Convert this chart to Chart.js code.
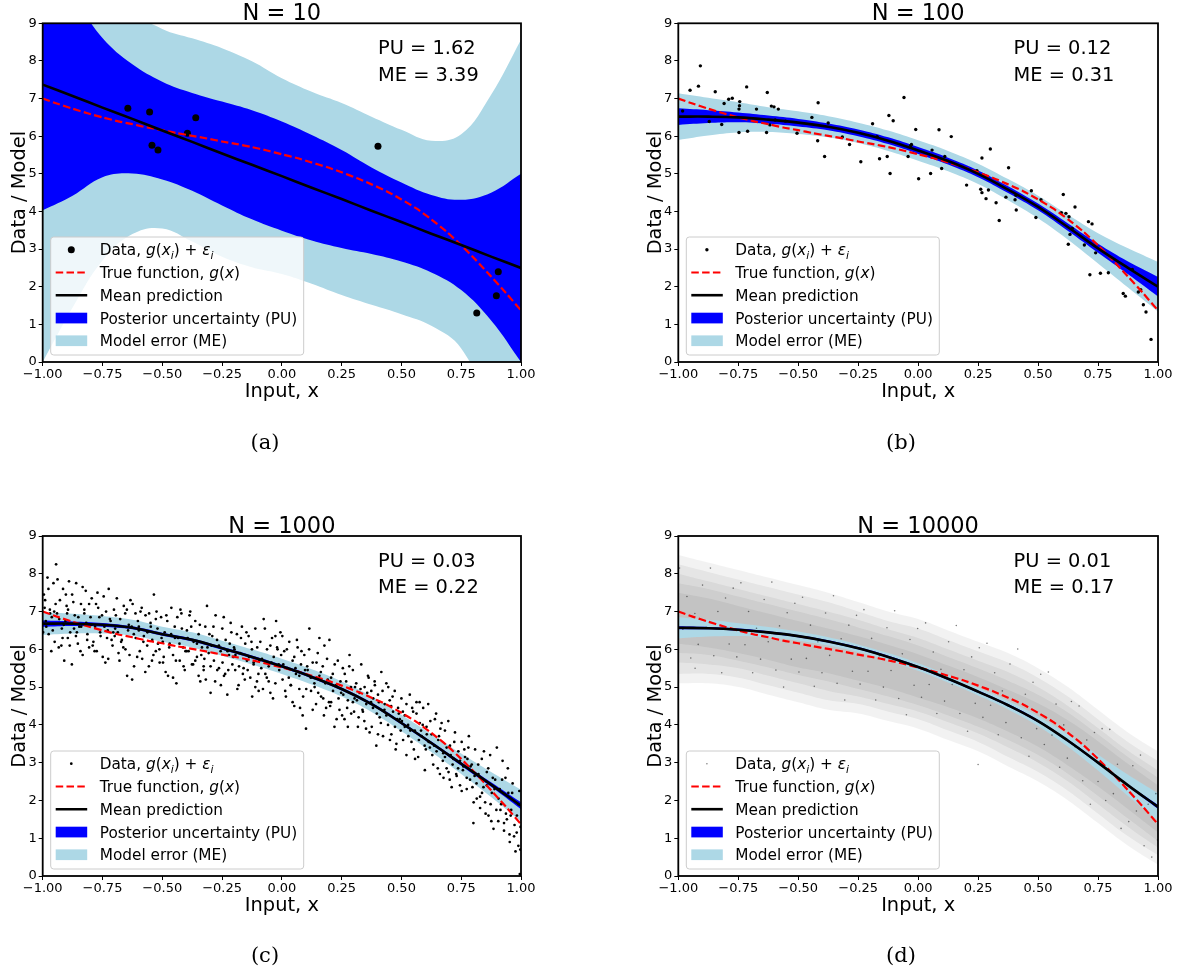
<!DOCTYPE html>
<html lang="en">
<head>
<meta charset="UTF-8">
<title>GP fits, N = 10 to 10000</title>
<script src="https://cdn.jsdelivr.net/npm/chart.js"></script>
<style>
  body { margin: 0; background: #fff; }
  .page { position: relative; width: 1178px; height: 972px; overflow: hidden; background: #fff; }
  .page canvas { position: absolute; left: 0; top: 0; }
  .cap { position: absolute; width: 60px; height: 26px; line-height: 26px; text-align: center;
         font-family: "DejaVu Serif", serif; font-size: 21px; color: #000; }
</style>
</head>
<body>
<div class="page">
  <canvas id="pa" width="1178" height="972"></canvas>
  <canvas id="pb" width="1178" height="972"></canvas>
  <canvas id="pc" width="1178" height="972"></canvas>
  <canvas id="pd" width="1178" height="972"></canvas>
  <div class="cap" style="left:235px;top:429px">(a)</div>
  <div class="cap" style="left:871px;top:429px">(b)</div>
  <div class="cap" style="left:235px;top:942px">(c)</div>
  <div class="cap" style="left:871px;top:942px">(d)</div>
</div>
<script>
// ---- data ----
const xGrid = [-1, -0.875, -0.75, -0.625, -0.5, -0.375, -0.25, -0.125, 0, 0.125, 0.25, 0.375, 0.5, 0.625, 0.75, 0.875, 1];
const xFine = [-1, -0.9375, -0.875, -0.8125, -0.75, -0.6875, -0.625, -0.5625, -0.5, -0.4375, -0.375, -0.3125, -0.25, -0.1875, -0.125, -0.0625,
  0, 0.0625, 0.125, 0.1875, 0.25, 0.3125, 0.375, 0.4375, 0.5, 0.5625, 0.625, 0.6875, 0.75, 0.8125, 0.875, 0.9375, 1];
const trueFn = [7.00, 6.86, 6.73, 6.61, 6.50, 6.40, 6.32, 6.23, 6.16, 6.08, 6.01, 5.94, 5.86, 5.79, 5.71, 5.62,
  5.52, 5.42, 5.30, 5.18, 5.04, 4.89, 4.72, 4.54, 4.32, 4.08, 3.79, 3.47, 3.10, 2.70, 2.27, 1.83, 1.37];
const xTicks = [-1, -0.75, -0.5, -0.25, 0, 0.25, 0.5, 0.75, 1];
const yTicks = [0, 1, 2, 3, 4, 5, 6, 7, 8, 9];

// N = 10
const dataA = [[-0.644,6.74],[-0.553,6.64],[-0.543,5.76],[-0.518,5.63],[-0.395,6.08],[-0.360,6.49],[0.402,5.73],[0.815,1.30],[0.897,1.76],[0.905,2.40]];
const meanA = [7.37, 7.07, 6.76, 6.46, 6.15, 5.85, 5.54, 5.24, 4.94, 4.63, 4.33, 4.02, 3.72, 3.41, 3.11, 2.80, 2.50];
const puUpA = [10.71, 9.72, 8.61, 7.91, 7.45, 7.15, 6.92, 6.69, 6.39, 6.03, 5.63, 5.17, 4.77, 4.44, 4.31, 4.50, 5.00];
const puLoA = [4.03, 4.42, 4.91, 5.01, 4.85, 4.55, 4.16, 3.79, 3.49, 3.23, 3.03, 2.87, 2.67, 2.38, 1.91, 1.10, 0.00];
const meUpA = [14.77, 12.37, 10.56, 9.36, 8.85, 8.60, 8.34, 7.99, 7.54, 7.18, 6.88, 6.52, 6.17, 5.88, 6.05, 7.10, 8.56];
const meLoA = [0.00, 1.45, 2.70, 3.40, 3.55, 3.20, 2.80, 2.52, 2.34, 2.08, 1.78, 1.52, 1.27, 0.96, 0.36, -1.30, -3.56];

// N = 100
const dataB = [[-0.982,6.67],[-0.951,7.22],[-0.916,7.33],[-0.908,7.87],[-0.871,6.39],[-0.846,7.18],[-0.819,6.31],[-0.809,6.87],[-0.790,6.98],[-0.775,7.01],[-0.747,6.10],[-0.744,6.92],[-0.745,6.81],[-0.747,6.72],[-0.715,7.31],[-0.711,6.13],[-0.674,6.72],[-0.632,6.10],[-0.629,7.16],[-0.612,6.80],[-0.601,6.78],[-0.583,6.72],[-0.618,6.30],[-0.596,6.43],[-0.553,6.40],[-0.505,6.08],[-0.443,6.50],[-0.417,6.89],[-0.419,5.88],[-0.390,5.46],[-0.375,6.35],[-0.316,5.98],[-0.286,5.78],[-0.239,5.32],[-0.190,6.33],[-0.171,5.99],[-0.161,5.40],[-0.129,5.46],[-0.122,6.55],[-0.117,5.01],[-0.104,6.41],[-0.059,7.03],[-0.042,5.46],[-0.031,5.75],[-0.028,5.78],[-0.010,6.18],[0.002,4.87],
  [0.087,6.17],[0.138,5.99],[0.058,5.63],[0.111,5.46],[0.098,5.14],[0.052,5.01],[0.301,5.66],[0.266,5.42],[0.245,5.08],[0.202,4.70],[0.261,4.59],[0.266,4.50],[0.293,4.57],[0.283,4.34],[0.325,4.23],[0.338,3.76],[0.377,5.16],[0.366,4.38],[0.404,4.31],[0.409,4.04],[0.408,4.43],[0.472,4.55],[0.512,4.31],[0.491,3.84],[0.605,4.45],[0.597,3.97],[0.616,3.95],[0.629,3.86],[0.654,4.12],[0.633,3.39],[0.626,3.13],[0.693,3.11],[0.710,3.73],[0.725,3.67],[0.740,2.90],[0.716,2.32],[0.760,2.36],[0.793,2.37],[0.855,1.82],[0.864,1.75],[0.893,2.46],[0.918,1.86],[0.928,1.92],[0.939,1.52],[0.950,1.33],[0.971,0.60],[0.643,3.55]];
const meanB = [6.52, 6.52, 6.50, 6.44, 6.36, 6.25, 6.09, 5.88, 5.62, 5.34, 5.00, 4.58, 4.12, 3.58, 3.02, 2.50, 2.00];
const puUpB = [6.74, 6.69, 6.63, 6.55, 6.46, 6.34, 6.18, 5.97, 5.71, 5.43, 5.09, 4.67, 4.21, 3.68, 3.14, 2.67, 2.26];
const puLoB = [6.30, 6.35, 6.37, 6.33, 6.26, 6.16, 6.00, 5.79, 5.53, 5.25, 4.91, 4.49, 4.03, 3.48, 2.90, 2.33, 1.74];
const meUpB = [7.14, 7.02, 6.90, 6.77, 6.66, 6.53, 6.36, 6.15, 5.89, 5.61, 5.27, 4.86, 4.42, 3.91, 3.42, 3.02, 2.66];
const meLoB = [5.90, 6.02, 6.10, 6.11, 6.06, 5.97, 5.82, 5.61, 5.35, 5.07, 4.73, 4.30, 3.82, 3.25, 2.62, 1.98, 1.34];

// N = 1000 (a readable share of the scatter)
const dataC = [[-0.995,7.45],[-0.99,7.3],[-0.985,6.6],[-0.98,7.9],[-0.975,6.4],[-0.97,7.05],[-0.962,6.85],[-0.955,7.75],[-0.95,6.2],[-0.944,8.25],[-0.94,6.95],[-0.933,6.05],[-0.928,7.3],[-0.92,6.55],[-0.915,7.6],[-0.91,5.7],[-0.905,6.75],[-0.9,7.15],
  [-0.895,6.3],[-0.89,7.8],[-0.885,6.45],[-0.878,5.6],[-0.872,7.25],[-0.866,6.9],[-0.86,7.75],[-0.853,6.15],[-0.847,6.6],[-0.84,7.2],[-0.833,5.85],[-0.826,6.95],[-0.82,7.55],[-0.813,6.4],[-0.806,6.05],[-0.8,6.85],
  [-0.795,7.35],[-0.788,6.2],[-0.781,6.6],[-0.774,5.95],[-0.768,7.1],[-0.76,6.45],[-0.752,6.9],[-0.745,7.4],[-0.738,5.65],[-0.731,6.3],[-0.724,7.6],[-0.716,6.75],[-0.708,6.1],[-0.702,7.05],
  [-0.697,6.55],[-0.69,7.35],[-0.683,5.9],[-0.676,6.8],[-0.669,6.25],[-0.661,7.15],[-0.654,6.0],[-0.647,5.3],[-0.64,6.65],[-0.633,7.3],[-0.626,5.2],[-0.619,6.4],[-0.612,6.95],[-0.605,5.8],
  [-0.598,6.6],[-0.591,7.0],[-0.584,5.75],[-0.577,6.35],[-0.57,6.9],[-0.563,6.1],[-0.556,5.55],[-0.549,6.7],[-0.542,6.25],[-0.535,7.45],[-0.527,5.95],[-0.52,6.55],[-0.512,6.0],[-0.505,6.85],
  [-0.497,5.65],[-0.49,6.45],[-0.483,6.9],[-0.476,5.3],[-0.469,6.15],[-0.462,7.1],[-0.455,5.85],[-0.448,6.6],[-0.441,5.1],[-0.434,6.3],[-0.427,5.7],[-0.42,6.95],[-0.413,6.05],[-0.406,5.45],
  [-0.397,6.5],[-0.39,5.95],[-0.383,7.0],[-0.376,5.6],[-0.369,6.2],[-0.362,6.75],[-0.355,5.8],[-0.348,6.4],[-0.341,5.15],[-0.334,6.05],[-0.327,5.55],[-0.32,6.6],[-0.313,7.15],[-0.306,5.9],
  [-0.298,4.85],[-0.291,6.35],[-0.284,5.7],[-0.277,6.9],[-0.27,5.45],[-0.263,6.1],[-0.256,5.95],[-0.249,6.55],[-0.242,5.3],[-0.235,6.25],[-0.228,4.8],[-0.221,5.85],[-0.214,6.7],[-0.207,5.6],[-0.2,6.05],
  [-0.195,5.45],[-0.188,6.4],[-0.181,5.05],[-0.174,5.9],[-0.167,6.6],[-0.16,5.5],[-0.153,6.15],[-0.146,5.7],[-0.139,6.35],[-0.132,5.25],[-0.125,6.0],[-0.118,5.65],[-0.111,6.55],[-0.104,5.15],
  [-0.097,4.9],[-0.09,6.2],[-0.083,5.75],[-0.076,6.8],[-0.069,5.35],[-0.062,6.0],[-0.055,5.55],[-0.048,4.85],[-0.041,6.3],[-0.034,5.8],[-0.027,5.1],[-0.02,6.05],[-0.013,5.6],[-0.006,6.45],
  [0.003,5.2],[0.01,5.95],[0.017,4.75],[0.024,5.5],[0.031,6.2],[0.038,5.05],[0.045,5.7],[0.052,4.5],[0.059,5.35],[0.066,6.05],[0.073,4.95],[0.08,5.6],[0.087,4.25],[0.094,5.85],
  [0.101,3.9],[0.108,5.45],[0.115,6.55],[0.122,4.9],[0.129,5.65],[0.136,5.1],[0.143,4.55],[0.15,5.9],[0.157,5.3],[0.164,4.75],[0.171,5.55],[0.178,6.1],[0.185,4.45],[0.192,5.2],
  [0.199,6.25],[0.206,4.6],[0.213,5.35],[0.22,3.95],[0.227,5.05],[0.234,5.7],[0.241,4.4],[0.248,4.85],[0.255,5.5],[0.262,4.15],[0.269,5.15],[0.276,4.65],[0.283,5.85],[0.29,4.3],
  [0.297,5.45],[0.304,4.7],[0.311,5.1],[0.318,3.95],[0.325,4.85],[0.332,5.6],[0.339,4.35],[0.346,5.0],[0.353,4.55],[0.36,5.3],[0.367,3.8],[0.374,4.9],[0.381,4.45],[0.388,5.15],
  [0.395,3.45],[0.402,4.8],[0.409,4.2],[0.416,5.4],[0.423,3.7],[0.43,4.55],[0.437,5.1],[0.444,4.0],[0.451,4.65],[0.458,3.75],[0.465,4.35],[0.472,4.9],[0.479,3.5],[0.486,4.45],[0.493,4.15],
  [0.5,4.7],[0.507,3.6],[0.514,4.25],[0.521,3.2],[0.528,4.0],[0.535,4.8],[0.542,3.55],[0.549,4.35],[0.556,3.85],[0.563,4.6],[0.57,3.15],[0.577,4.05],[0.584,3.7],[0.591,4.45],
  [0.598,2.8],[0.605,3.95],[0.612,4.55],[0.619,3.4],[0.626,3.75],[0.633,2.95],[0.64,4.15],[0.647,3.3],[0.654,3.6],[0.661,2.7],[0.668,4.05],[0.675,3.25],[0.682,3.85],[0.689,2.85],[0.696,4.1],
  [0.703,3.45],[0.71,2.35],[0.717,3.1],[0.724,3.8],[0.731,2.65],[0.738,3.3],[0.745,2.4],[0.752,3.55],[0.759,2.9],[0.766,3.15],[0.773,2.3],[0.78,3.4],[0.787,2.55],[0.794,2.95],
  [0.801,1.4],[0.808,3.35],[0.815,2.05],[0.822,2.7],[0.829,1.8],[0.836,3.1],[0.843,2.35],[0.85,1.95],[0.857,2.75],[0.864,1.6],[0.871,3.2],[0.878,2.2],[0.885,1.25],[0.892,2.55],[0.899,3.4],
  [0.905,1.45],[0.911,2.3],[0.917,1.9],[0.923,3.05],[0.929,1.2],[0.935,2.6],[0.941,1.5],[0.947,2.2],[0.953,0.9],[0.959,1.75],[0.965,2.45],[0.971,1.05],[0.977,0.65],[0.983,1.6],[0.989,0.8],[0.995,0.05],[0.998,1.3],
  [-0.958,6.5],[-0.992,7.1],[-0.917,6.3],[-0.976,7.6],[-0.931,6.8],[-0.964,5.95],[-0.903,7.45],[-0.987,6.75],[-0.946,7.2],[-0.922,6.1],[-0.969,6.95],[-0.938,7.85],[-0.998,6.45],[-0.912,6.65],[-0.952,7.0],
  [-0.861,6.35],[-0.894,7.05],[-0.818,6.7],[-0.877,7.45],[-0.842,5.95],[-0.806,7.2],[-0.869,6.55],[-0.833,7.65],[-0.887,6.1],[-0.851,6.85],[-0.814,6.25],[-0.898,6.95],[-0.826,7.05],[-0.857,6.45],[-0.839,6.6],
  [-0.763,6.85],[-0.791,6.1],[-0.728,6.5],[-0.777,7.2],[-0.712,6.25],[-0.749,5.8],[-0.796,6.65],[-0.735,7.0],[-0.758,6.35],[-0.719,6.8],[-0.783,5.95],[-0.742,6.6],[-0.705,6.45],[-0.771,7.5],[-0.726,5.75],
  [-0.663,6.05],[-0.694,6.9],[-0.628,6.6],[-0.679,5.7],[-0.611,6.3],[-0.648,7.05],[-0.686,6.45],[-0.637,5.85],[-0.602,6.75],[-0.672,6.2],[-0.655,6.95],[-0.618,5.55],[-0.699,6.35],[-0.643,6.5],[-0.624,7.2],
  [-0.562,6.45],[-0.594,5.95],[-0.527,6.8],[-0.579,6.2],[-0.511,5.65],[-0.548,6.6],[-0.586,7.1],[-0.537,5.85],[-0.503,6.3],[-0.571,5.4],[-0.555,6.95],[-0.518,6.15],[-0.598,6.5],[-0.543,5.7],[-0.524,7.0],
  [-0.463,6.4],[-0.494,5.8],[-0.428,6.15],[-0.479,6.75],[-0.411,5.55],[-0.447,6.3],[-0.486,5.4],[-0.437,6.85],[-0.403,5.95],[-0.471,6.05],[-0.455,5.25],[-0.418,6.55],[-0.498,6.2],[-0.443,5.7],[-0.424,7.05],
  [-0.362,5.7],[-0.394,6.3],[-0.327,5.45],[-0.379,6.6],[-0.311,6.05],[-0.348,5.3],[-0.386,6.9],[-0.337,5.85],[-0.303,6.4],[-0.371,5.6],[-0.355,6.15],[-0.318,5.2],[-0.398,5.95],[-0.343,6.65],[-0.324,5.75],
  [-0.263,5.5],[-0.294,6.1],[-0.227,5.95],[-0.279,5.15],[-0.211,6.45],[-0.248,5.65],[-0.286,6.6],[-0.237,5.35],[-0.203,5.8],[-0.271,6.25],[-0.255,5.05],[-0.218,6.15],[-0.298,5.55],[-0.243,6.85],[-0.224,5.45],
  [-0.163,5.35],[-0.194,5.85],[-0.127,6.2],[-0.179,5.55],[-0.111,5.0],[-0.148,6.45],[-0.186,4.95],[-0.137,5.8],[-0.103,6.05],[-0.171,6.3],[-0.155,5.2],[-0.118,5.6],[-0.198,6.0],[-0.143,5.45],[-0.124,4.75],
  [-0.063,5.25],[-0.094,5.7],[-0.027,6.35],[-0.079,4.95],[-0.011,5.45],[-0.048,6.1],[-0.086,5.5],[-0.037,4.7],[-0.003,5.85],[-0.071,6.55],[-0.055,5.15],[-0.018,6.0],[-0.098,5.35],[-0.043,5.65],[-0.024,6.75],
  [0.037,5.05],[0.006,5.6],[0.073,5.3],[0.021,6.0],[0.089,4.75],[0.052,5.8],[0.014,4.9],[0.063,6.25],[0.097,5.45],[0.029,5.25],[0.045,4.6],[0.082,5.95],[0.002,6.35],[0.057,5.5],[0.076,4.45],
  [0.137,5.0],[0.106,5.55],[0.173,4.7],[0.121,5.25],[0.189,5.75],[0.152,4.85],[0.114,6.0],[0.163,5.4],[0.197,4.6],[0.129,4.4],[0.145,5.65],[0.182,5.1],[0.102,4.95],[0.157,6.3],[0.176,4.25],
  [0.237,4.7],[0.206,5.25],[0.273,4.45],[0.221,5.6],[0.289,5.0],[0.252,4.25],[0.214,4.9],[0.263,5.35],[0.297,4.6],[0.229,4.15],[0.245,5.15],[0.282,5.55],[0.202,4.5],[0.257,4.8],[0.276,3.95],
  [0.337,4.4],[0.306,5.0],[0.373,4.6],[0.321,4.2],[0.389,5.05],[0.352,3.9],[0.314,4.65],[0.363,5.25],[0.397,4.3],[0.329,4.95],[0.345,4.1],[0.382,4.7],[0.302,4.35],[0.357,4.85],[0.376,3.95],
  [0.437,4.25],[0.406,4.6],[0.473,3.95],[0.421,4.9],[0.489,4.3],[0.452,3.6],[0.414,4.05],[0.463,4.75],[0.497,3.85],[0.429,4.4],[0.445,5.0],[0.482,4.15],[0.402,3.75],[0.457,4.5],[0.476,3.35],
  [0.537,3.85],[0.506,4.35],[0.573,3.6],[0.521,4.55],[0.589,4.0],[0.552,3.35],[0.514,3.95],[0.563,4.3],[0.597,3.45],[0.529,3.7],[0.545,4.45],[0.582,3.85],[0.502,4.1],[0.557,3.1],[0.576,4.6],
  [0.637,3.45],[0.606,3.75],[0.673,3.05],[0.621,4.1],[0.689,3.4],[0.652,2.85],[0.614,3.55],[0.663,3.9],[0.697,2.75],[0.629,3.2],[0.645,4.3],[0.682,3.15],[0.602,3.35],[0.657,3.7],[0.676,2.6],
  [0.737,2.85],[0.706,3.2],[0.773,2.6],[0.721,3.55],[0.789,2.9],[0.752,2.25],[0.714,2.95],[0.763,3.35],[0.797,2.35],[0.729,2.7],[0.745,3.05],[0.782,3.7],[0.702,2.55],[0.757,2.8],[0.776,3.1],
  [0.837,2.2],[0.806,2.65],[0.873,1.9],[0.821,2.95],[0.889,2.3],[0.852,1.65],[0.814,2.45],[0.863,2.85],[0.897,1.75],[0.829,2.1],[0.845,3.3],[0.882,2.6],[0.802,1.95],[0.857,2.4],[0.876,1.45],
  [0.937,1.65],[0.906,2.05],[0.973,1.35],[0.921,2.55],[0.989,1.9],[0.952,1.1],[0.914,1.75],[0.963,2.2],[0.997,0.7],[0.929,1.4],[0.945,2.85],[0.982,1.15],[0.902,2.3],[0.957,1.6],[0.993,2.25]];
const meanC = [6.68, 6.68, 6.65, 6.57, 6.40, 6.25, 6.03, 5.80, 5.55, 5.27, 4.95, 4.55, 4.05, 3.52, 2.97, 2.42, 1.86];
const puUpC = [6.76, 6.74, 6.70, 6.61, 6.44, 6.29, 6.07, 5.84, 5.59, 5.31, 4.99, 4.59, 4.09, 3.56, 3.02, 2.48, 1.95];
const puLoC = [6.60, 6.62, 6.60, 6.53, 6.36, 6.21, 5.99, 5.76, 5.51, 5.23, 4.91, 4.51, 4.01, 3.48, 2.92, 2.36, 1.77];
const meUpC = [6.98, 6.94, 6.88, 6.78, 6.60, 6.45, 6.23, 6.00, 5.75, 5.47, 5.15, 4.76, 4.27, 3.76, 3.24, 2.75, 2.28];
const meLoC = [6.38, 6.42, 6.42, 6.36, 6.20, 6.05, 5.83, 5.60, 5.35, 5.07, 4.75, 4.34, 3.83, 3.28, 2.70, 2.09, 1.44];

// N = 10000: nested density contours of the point cloud, plus stray points
const cloud1Up = [8.5, 8.3, 8.1, 7.9, 7.7, 7.5, 7.25, 7.0, 6.8, 6.5, 6.2, 5.9, 5.5, 5.0, 4.4, 3.8, 3.3];
const cloud1Lo = [5.1, 5.1, 5.0, 4.8, 4.6, 4.4, 4.3, 4.1, 3.9, 3.6, 3.3, 2.9, 2.5, 2.0, 1.4, 0.8, 0.3];
const cloud2Up = [8.25, 8.05, 7.85, 7.65, 7.45, 7.25, 7.0, 6.75, 6.55, 6.25, 5.95, 5.65, 5.25, 4.75, 4.15, 3.55, 3.05];
const cloud2Lo = [5.35, 5.35, 5.25, 5.05, 4.85, 4.65, 4.55, 4.35, 4.15, 3.85, 3.55, 3.15, 2.75, 2.25, 1.65, 1.05, 0.55];
const cloud3Up = [8.0, 7.8, 7.6, 7.4, 7.2, 7.0, 6.78, 6.53, 6.3, 6.0, 5.7, 5.4, 5.0, 4.5, 3.92, 3.32, 2.8];
const cloud3Lo = [5.65, 5.6, 5.5, 5.3, 5.1, 4.9, 4.75, 4.55, 4.35, 4.07, 3.77, 3.4, 3.0, 2.5, 1.9, 1.3, 0.75];
const cloud4Up = [7.75, 7.6, 7.4, 7.2, 7.0, 6.8, 6.58, 6.35, 6.1, 5.8, 5.5, 5.17, 4.8, 4.33, 3.75, 3.15, 2.6];
const cloud4Lo = [5.9, 5.85, 5.7, 5.52, 5.32, 5.15, 4.95, 4.75, 4.52, 4.25, 3.95, 3.6, 3.2, 2.7, 2.12, 1.52, 0.92];
const cloud5Up = [7.5, 7.35, 7.15, 6.95, 6.75, 6.55, 6.35, 6.12, 5.87, 5.57, 5.27, 4.93, 4.57, 4.12, 3.57, 2.97, 2.4];
const cloud5Lo = [6.15, 6.05, 5.9, 5.72, 5.52, 5.37, 5.17, 4.97, 4.72, 4.47, 4.17, 3.82, 3.42, 2.92, 2.37, 1.77, 1.15];
const dataD = [[-0.995,8.15],[-0.981,6.53],[-0.964,7.4],[-0.948,5.77],[-0.931,6.95],[-0.917,6.13],[-0.899,7.7],[-0.884,6.58],[-0.866,8.15],[-0.852,5.83],[-0.835,7.0],[-0.819,5.38],[-0.803,7.36],[-0.788,6.14],[-0.771,7.62],[-0.756,5.8],
  [-0.739,7.76],[-0.722,6.12],[-0.707,7.0],[-0.69,5.38],[-0.674,6.56],[-0.657,5.74],[-0.642,7.32],[-0.625,6.2],[-0.61,7.78],[-0.593,5.45],[-0.578,6.62],[-0.561,5.0],[-0.546,6.97],[-0.529,5.74],[-0.514,7.22],[-0.497,5.4],
  [-0.482,7.38],[-0.466,5.76],[-0.449,6.64],[-0.433,5.02],[-0.418,6.2],[-0.401,5.38],[-0.386,6.96],[-0.369,5.84],[-0.353,7.42],[-0.338,5.1],[-0.321,6.28],[-0.306,4.66],[-0.289,6.64],[-0.274,5.42],[-0.257,6.9],[-0.242,5.08],
  [-0.226,7.05],[-0.209,5.42],[-0.194,6.29],[-0.177,4.66],[-0.162,5.83],[-0.145,5.0],[-0.13,6.57],[-0.113,5.44],[-0.098,7.02],[-0.081,4.7],[-0.066,5.88],[-0.049,4.27],[-0.034,6.26],[-0.017,5.05],[-0.002,6.55],[0.014,4.73],
  [0.031,6.7],[0.046,5.07],[0.063,5.93],[0.078,4.3],[0.095,5.47],[0.11,4.63],[0.127,6.2],[0.142,5.07],[0.159,6.63],[0.174,4.3],[0.191,5.46],[0.206,3.83],[0.223,5.8],[0.238,4.57],[0.255,6.04],[0.27,4.2],
  [0.287,6.16],[0.302,4.52],[0.319,5.38],[0.334,3.74],[0.351,4.9],[0.366,4.06],[0.383,5.61],[0.398,4.46],[0.415,6.01],[0.43,3.66],[0.447,4.81],[0.462,3.17],[0.479,5.13],[0.494,3.9],[0.511,5.34],[0.526,3.48],
  [0.543,5.4],[0.558,3.73],[0.575,4.55],[0.59,2.88],[0.607,4.0],[0.622,3.12],[0.639,4.62],[0.654,3.42],[0.671,4.5],[0.686,2.52],[0.703,3.6],[0.718,1.9],[0.735,3.8],[0.75,2.5],[0.767,3.9],[0.782,2.0],
  [0.799,3.88],[0.814,2.18],[0.831,2.96],[0.846,1.26],[0.863,2.34],[0.878,1.44],[0.895,2.92],[0.91,1.72],[0.927,3.2],[0.942,0.8],[0.959,1.9],[0.974,0.5],[0.991,2.18],[0.998,0.95],[0.25,2.95],[-0.93,5.5]];
const meanD = [6.57, 6.56, 6.52, 6.45, 6.35, 6.21, 6.03, 5.80, 5.53, 5.22, 4.88, 4.52, 4.10, 3.58, 3.00, 2.40, 1.83];
const puUpD = [6.61, 6.59, 6.55, 6.48, 6.38, 6.24, 6.06, 5.83, 5.56, 5.25, 4.91, 4.55, 4.13, 3.61, 3.03, 2.43, 1.88];
const puLoD = [6.53, 6.53, 6.49, 6.42, 6.32, 6.18, 6.00, 5.77, 5.50, 5.19, 4.85, 4.49, 4.07, 3.55, 2.97, 2.37, 1.78];
const meUpD = [6.85, 6.78, 6.69, 6.59, 6.47, 6.32, 6.13, 5.90, 5.63, 5.32, 4.98, 4.63, 4.23, 3.74, 3.21, 2.68, 2.19];
const meLoD = [6.29, 6.34, 6.35, 6.31, 6.23, 6.10, 5.93, 5.70, 5.43, 5.12, 4.78, 4.41, 3.97, 3.42, 2.79, 2.12, 1.47];

// ---- drawing ----
Chart.defaults.font.family = '"DejaVu Sans", sans-serif';
Chart.defaults.color = '#000';

const FONT = '"DejaVu Sans"';
const BLUE = '#0000ff', LIGHT = '#add8e6';
const TENSION = 0.4;

function pts(xs, ys) { return xs.map((x, i) => ({ x: x, y: ys[i] })); }
function pairs(list) { return list.map(p => ({ x: p[0], y: p[1] })); }
function fmt(v) { return (v < 0 ? '\u2212' : '') + Math.abs(v).toFixed(2); }

function band(up, lo, color, order) {
  return [
    { data: pts(xGrid, up), fill: '+1', backgroundColor: color, borderColor: 'transparent', borderWidth: 0,
      pointRadius: 0, tension: TENSION, order: order },
    { data: pts(xGrid, lo), fill: false, backgroundColor: 'transparent', borderColor: 'transparent', borderWidth: 0,
      pointRadius: 0, tension: TENSION, order: order - 0.5 }
  ];
}

function rich(ctx, parts, x, y, size) {
  parts.forEach(p => {
    const s = p.sub ? size * 0.7 : size;
    ctx.font = (p.it ? 'italic ' : '') + s.toFixed(1) + 'px ' + FONT;
    ctx.fillText(p.t, x, y + (p.sub ? size * 0.22 : 0));
    x += ctx.measureText(p.t).width;
  });
}

const legendRows = [
  [{ t: 'Data, ' }, { t: 'g', it: 1 }, { t: '(' }, { t: 'x', it: 1 }, { t: 'i', it: 1, sub: 1 }, { t: ') + ' }, { t: '\u03b5', it: 1 }, { t: 'i', it: 1, sub: 1 }],
  [{ t: 'True function, ' }, { t: 'g', it: 1 }, { t: '(' }, { t: 'x', it: 1 }, { t: ')' }],
  [{ t: 'Mean prediction' }],
  [{ t: 'Posterior uncertainty (PU)' }],
  [{ t: 'Model error (ME)' }]
];

function makeDeco(p) {
  return {
    id: 'deco',
    afterDatasetsDraw(chart) {
      const a = chart.chartArea, ctx = chart.ctx;
      ctx.save();
      ctx.strokeStyle = '#000';
      ctx.lineWidth = 1.8;
      ctx.strokeRect(a.left, a.top, a.right - a.left, a.bottom - a.top);
      ctx.restore();
    },
    afterDraw(chart) {
      const a = chart.chartArea, ctx = chart.ctx;
      const cx = (a.left + a.right) / 2, cy = (a.top + a.bottom) / 2;
      ctx.save();
      ctx.fillStyle = '#000';
      ctx.textBaseline = 'alphabetic';
      // title
      ctx.textAlign = 'center';
      ctx.font = '22.5px ' + FONT;
      ctx.fillText(p.title, cx, a.top - 3.3);
      // axis titles
      ctx.font = '19.4px ' + FONT;
      ctx.fillText('Input, x', cx, a.bottom + 35);
      ctx.save();
      ctx.translate(a.left - 17.7, cy);
      ctx.rotate(-Math.PI / 2);
      ctx.fillText('Data / Model', 0, 0);
      ctx.restore();
      // PU / ME numbers
      ctx.textAlign = 'left';
      ctx.fillText('PU = ' + p.pu, a.left + 335.3, a.top + 30.7);
      ctx.fillText('ME = ' + p.me, a.left + 335.3, a.top + 57.4);

      // legend
      const bw = 253, bh = 118, bx = a.left + 8, by = a.bottom - 7 - bh;
      ctx.beginPath();
      ctx.roundRect(bx, by, bw, bh, 3);
      ctx.fillStyle = 'rgba(255,255,255,0.8)';
      ctx.fill();
      ctx.strokeStyle = '#cccccc';
      ctx.lineWidth = 1;
      ctx.stroke();
      const rows = [12.7, 35.5, 58.2, 81, 103.7].map(v => by + v);
      const hx0 = bx + 5, hx1 = bx + 36.5, tx = bx + 49;
      ctx.fillStyle = p.markerColor;
      ctx.beginPath();
      ctx.arc(bx + 20.6, rows[0], p.markerR, 0, Math.PI * 2);
      ctx.fill();
      ctx.strokeStyle = '#ff0000';
      ctx.lineWidth = 2.2;
      ctx.setLineDash([7.5, 3.3]);
      ctx.beginPath(); ctx.moveTo(hx0, rows[1]); ctx.lineTo(hx1, rows[1]); ctx.stroke();
      ctx.setLineDash([]);
      ctx.strokeStyle = '#000';
      ctx.lineWidth = 2.6;
      ctx.beginPath(); ctx.moveTo(hx0, rows[2]); ctx.lineTo(hx1, rows[2]); ctx.stroke();
      ctx.fillStyle = BLUE;
      ctx.fillRect(hx0, rows[3] - 5.3, hx1 - hx0, 10.7);
      ctx.fillStyle = LIGHT;
      ctx.fillRect(hx0, rows[4] - 5.3, hx1 - hx0, 10.7);
      ctx.fillStyle = '#000';
      legendRows.forEach((parts, i) => rich(ctx, parts, tx, rows[i] + 5.5, 15.3));
      ctx.restore();
    }
  };
}

function makeChart(id, p) {
  const W = 1178, H = 972, yW = 40, xH = 40;
  const datasets = [].concat(
    p.cloudBands || [],
    band(p.meUp, p.meLo, LIGHT, 20),
    band(p.puUp, p.puLo, BLUE, 18),
    [
      { data: pairs(p.data), showLine: false, pointRadius: p.markerR, pointBackgroundColor: p.markerColor,
        pointBorderWidth: 0, borderColor: 'transparent', backgroundColor: p.markerColor, order: 2 },
      { data: pts(xFine, trueFn), borderColor: '#ff0000', backgroundColor: 'transparent', borderWidth: 2.2,
        borderDash: [7.5, 3.3], pointRadius: 0, fill: false, tension: 0.2, order: 1 },
      { data: pts(xGrid, p.mean), borderColor: '#000', backgroundColor: 'transparent', borderWidth: 2.6,
        pointRadius: 0, fill: false, tension: TENSION, order: 0 }
    ]
  );
  const gridOpts = { display: true, drawOnChartArea: false, drawTicks: true, tickLength: 4, color: '#000', lineWidth: 1 };
  return new Chart(document.getElementById(id), {
    type: 'line',
    data: { datasets: datasets },
    options: {
      responsive: false,
      animation: false,
      events: [],
      layout: { padding: { left: p.l - yW, top: p.t, right: W - p.r, bottom: H - p.b - xH } },
      plugins: { legend: { display: false }, tooltip: { enabled: false }, colors: { enabled: false } },
      scales: {
        x: {
          type: 'linear', min: -1, max: 1,
          afterBuildTicks: s => { s.ticks = xTicks.map(v => ({ value: v })); },
          ticks: { callback: fmt, font: { size: 13 }, padding: 1, maxRotation: 0, autoSkip: false },
          grid: gridOpts, border: { display: false },
          afterFit: s => { s.height = xH; }
        },
        y: {
          min: 0, max: 9,
          afterBuildTicks: s => { s.ticks = yTicks.map(v => ({ value: v })); },
          ticks: { font: { size: 13 }, padding: 2 },
          grid: gridOpts, border: { display: false },
          afterFit: s => { s.width = yW; }
        }
      }
    },
    plugins: [makeDeco(p)]
  });
}

makeChart('pa', { l: 42.7, t: 23.3, r: 521, b: 362, title: 'N = 10', pu: '1.62', me: '3.39',
  data: dataA, mean: meanA, puUp: puUpA, puLo: puLoA, meUp: meUpA, meLo: meLoA, markerR: 3.5, markerColor: '#000' });
makeChart('pb', { l: 678.3, t: 23.3, r: 1158, b: 362, title: 'N = 100', pu: '0.12', me: '0.31',
  data: dataB, mean: meanB, puUp: puUpB, puLo: puLoB, meUp: meUpB, meLo: meLoB, markerR: 1.7, markerColor: '#000' });
makeChart('pc', { l: 42.7, t: 536, r: 521, b: 876, title: 'N = 1000', pu: '0.03', me: '0.22',
  data: dataC, mean: meanC, puUp: puUpC, puLo: puLoC, meUp: meUpC, meLo: meLoC, markerR: 1.35, markerColor: '#000' });
makeChart('pd', { l: 678.3, t: 536, r: 1158, b: 876, title: 'N = 10000', pu: '0.01', me: '0.17',
  data: dataD, mean: meanD, puUp: puUpD, puLo: puLoD, meUp: meUpD, meLo: meLoD, markerR: 0.8, markerColor: 'rgba(0,0,0,0.5)',
  cloudBands: [].concat(
    band(cloud1Up, cloud1Lo, 'rgba(0,0,0,0.05)', 40),
    band(cloud2Up, cloud2Lo, 'rgba(0,0,0,0.055)', 38),
    band(cloud3Up, cloud3Lo, 'rgba(0,0,0,0.055)', 36),
    band(cloud4Up, cloud4Lo, 'rgba(0,0,0,0.055)', 34),
    band(cloud5Up, cloud5Lo, 'rgba(0,0,0,0.055)', 32)) });
</script>
</body>
</html>
